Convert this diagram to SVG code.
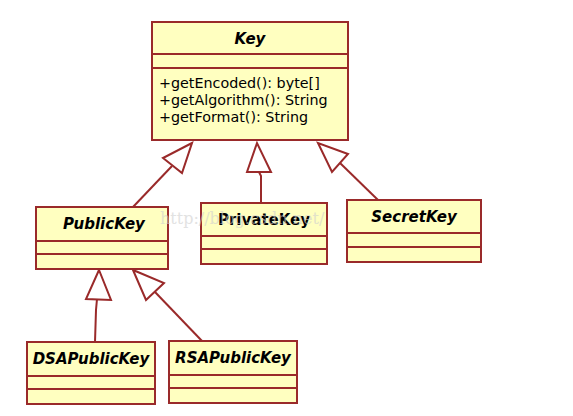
<svg xmlns="http://www.w3.org/2000/svg" width="573" height="416" viewBox="0 0 573 416">
<style>
.box{fill:#ffffc0;stroke:#9a2a2a;stroke-width:2}
.div{stroke:#9a2a2a;stroke-width:2}
.title{font-family:"DejaVu Sans",Verdana,sans-serif;font-size:15px;font-weight:bold;fill:#000;text-anchor:middle}
.it{font-style:italic}
.op{font-family:"DejaVu Sans",Verdana,sans-serif;font-size:14.3px;fill:#000}
.conn line,.conn polyline{stroke:#9a2a2a;stroke-width:2;fill:none}
.conn polygon{fill:#fff;stroke:#9a2a2a;stroke-width:2}
.wm{font-family:"DejaVu Serif",serif;font-size:16px;fill:#d0d0d0;opacity:0.6}
</style>
<rect width="573" height="416" fill="#fff"/>
<g class="conn">
<line x1="133" y1="207" x2="172" y2="166"/>
<polygon points="192,143 163,158 182,173"/>
<polyline points="261,203 261,176 259,172"/>
<polygon points="257,143 247,172 271,172"/>
<line x1="378" y1="200" x2="340" y2="163"/>
<polygon points="318,143 332,172 348,154"/>
<polyline points="95,342 96,310 97,299"/>
<polygon points="99,270 86,299 111,300"/>
<line x1="202" y1="341" x2="155" y2="292"/>
<polygon points="133,270 146,300 164,283"/>
</g>
<g id="Key">
<rect class="box" x="152" y="22" width="196" height="118"/>
<line class="div" x1="152" y1="54" x2="348" y2="54"/>
<line class="div" x1="152" y1="68" x2="348" y2="68"/>
<text class="title it" x="250" y="44">Key</text>
<text class="op" x="159" y="88">+getEncoded(): byte[]</text>
<text class="op" x="159" y="105">+getAlgorithm(): String</text>
<text class="op" x="159" y="122">+getFormat(): String</text>
</g>
<g id="PublicKey">
<rect class="box" x="36" y="207" width="132" height="62"/>
<line class="div" x1="36" y1="241" x2="168" y2="241"/>
<line class="div" x1="36" y1="254" x2="168" y2="254"/>
<text class="title it" x="104" y="229">PublicKey</text>
</g>
<g id="PrivateKey">
<rect class="box" x="201" y="203" width="126" height="61"/>
<line class="div" x1="201" y1="236" x2="327" y2="236"/>
<line class="div" x1="201" y1="249" x2="327" y2="249"/>
<text class="title" x="264" y="225">PrivateKey</text>
</g>
<g id="SecretKey">
<rect class="box" x="347" y="200" width="134" height="62"/>
<line class="div" x1="347" y1="233" x2="481" y2="233"/>
<line class="div" x1="347" y1="247" x2="481" y2="247"/>
<text class="title it" x="414" y="222">SecretKey</text>
</g>
<g id="DSAPublicKey">
<rect class="box" x="27" y="342" width="128" height="62"/>
<line class="div" x1="27" y1="376" x2="155" y2="376"/>
<line class="div" x1="27" y1="389" x2="155" y2="389"/>
<text class="title it" x="91" y="364">DSAPublicKey</text>
</g>
<g id="RSAPublicKey">
<rect class="box" x="169" y="341" width="128" height="62"/>
<line class="div" x1="169" y1="375" x2="297" y2="375"/>
<line class="div" x1="169" y1="388" x2="297" y2="388"/>
<text class="title it" x="233" y="363">RSAPublicKey</text>
</g>
<text class="wm" x="160" y="224">http://blog.csdn.net/</text>
</svg>
